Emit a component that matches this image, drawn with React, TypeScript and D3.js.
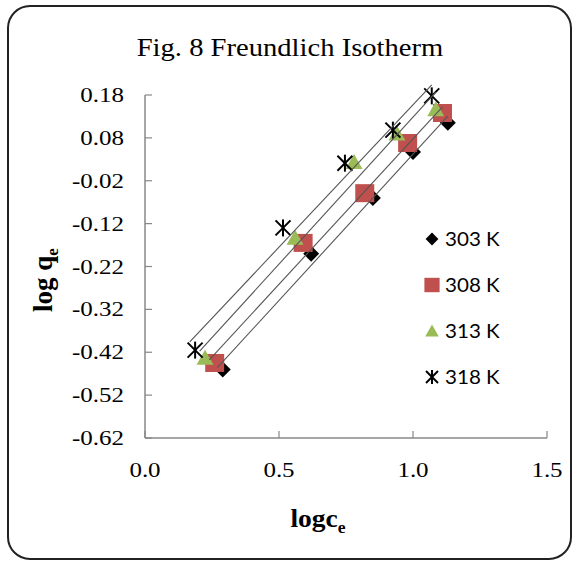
import React from "react";
import * as d3 from "d3";

const seriesNames = ["303 K", "308 K", "313 K", "318 K"];
const x303 = [0.29, 0.62, 0.85, 1.0, 1.13];
const y303 = [-0.46, -0.19, -0.06, 0.047, 0.115];
const x308 = [0.26, 0.59, 0.82, 0.98, 1.11];
const y308 = [-0.445, -0.165, -0.049, 0.068, 0.138];
const x313 = [0.224, 0.56, 0.78, 0.94, 1.085];
const y313 = [-0.433, -0.153, 0.024, 0.09, 0.147];
const x318 = [0.187, 0.515, 0.746, 0.925, 1.07];
const y318 = [-0.415, -0.13, 0.021, 0.098, 0.178];
const yTicks = [0.18, 0.08, -0.02, -0.12, -0.22, -0.32, -0.42, -0.52, -0.62];
const xTicks = [0.0, 0.5, 1.0, 1.5];

const W = 578, H = 565;
const serif = "'Liberation Serif', 'Times New Roman', serif";
const sans = "Lato, 'Open Sans', 'Liberation Sans', sans-serif";

function fit(xs: number[], ys: number[]) {
  const mx = d3.mean(xs)!, my = d3.mean(ys)!;
  let sxy = 0, sxx = 0;
  xs.forEach((x, i) => { sxy += (x - mx) * (ys[i] - my); sxx += (x - mx) ** 2; });
  const b = sxy / sxx;
  return { b, a: my - b * mx };
}

function STxt(p: { x: number; y: number; sx?: number; anchor?: string; size: number; family: string; weight?: string; children: any; rotate?: number }) {
  const t = `translate(${p.x},${p.y})${p.rotate ? ` rotate(${p.rotate})` : ""} scale(${p.sx ?? 1},1)`;
  return (
    <text transform={t} textAnchor={p.anchor ?? "start"} fontSize={p.size} fontFamily={p.family} fontWeight={p.weight ?? "normal"} fill="#000">
      {p.children}
    </text>
  );
}

function Marker({ kind, cx, cy, s = 1 }: { kind: number; cx: number; cy: number; s?: number }) {
  if (kind === 0) {
    const r = 8 * s;
    return <path d={`M${cx},${cy - r}L${cx + r},${cy}L${cx},${cy + r}L${cx - r},${cy}Z`} fill="#000" />;
  }
  if (kind === 1) {
    return <rect x={cx - 9.5 * s} y={cy - 9 * s} width={19 * s} height={18 * s} fill="#C0504D" />;
  }
  if (kind === 2) {
    return <path d={`M${cx},${cy - 8 * s}L${cx + 8.5 * s},${cy + 7 * s}L${cx - 8.5 * s},${cy + 7 * s}Z`} fill="#9BBB59" />;
  }
  const r = 7.5 * s;
  return (
    <g stroke="#000" strokeWidth={2}>
      <line x1={cx - r} y1={cy - r} x2={cx + r} y2={cy + r} />
      <line x1={cx - r} y1={cy + r} x2={cx + r} y2={cy - r} />
      <line x1={cx} y1={cy - r - 1} x2={cx} y2={cy + r + 1} />
    </g>
  );
}

export default function App() {
  const xs = [x303, x308, x313, x318];
  const ys = [y303, y308, y313, y318];
  const x = d3.scaleLinear().domain([0, 1.5]).range([145, 547]);
  const y = d3.scaleLinear().domain([-0.62, 0.18]).range([438, 95]);
  const fmtY = (v: number) => v.toFixed(2);
  const fmtX = (v: number) => v.toFixed(1);
  const legendY = [239, 285, 331, 377];

  return (
    <svg width={W} height={H} style={{ position: "absolute", left: 0, top: 0 }}>
      <rect x={0} y={0} width={W} height={H} fill="#fff" />
      <rect x={8} y={6} width={563} height={553} rx={22} ry={22} fill="#fff" stroke="#222" strokeWidth={2} />
      <STxt x={290} y={56} anchor="middle" size={26} family={serif} sx={1.1}>Fig. 8 Freundlich Isotherm</STxt>

      {/* axes */}
      <line x1={x(0)} y1={y(0.18)} x2={x(0)} y2={y(-0.62)} stroke="#888" strokeWidth={1.5} />
      <line x1={x(0)} y1={y(-0.62)} x2={x(1.5)} y2={y(-0.62)} stroke="#888" strokeWidth={1.5} />
      {yTicks.map((t) => (
        <g key={"y" + t}>
          <line x1={x(0)} x2={x(0) + 7} y1={y(t)} y2={y(t)} stroke="#888" strokeWidth={1.2} />
          <STxt x={124} y={y(t) + 7} anchor="end" size={20} family={serif} sx={1.25}>{fmtY(t)}</STxt>
        </g>
      ))}
      {xTicks.map((t) => (
        <g key={"x" + t}>
          <line x1={x(t)} x2={x(t)} y1={y(-0.62)} y2={y(-0.62) - 7} stroke="#888" strokeWidth={1.2} />
          <STxt x={x(t)} y={477} anchor="middle" size={20} family={serif} sx={1.25}>{fmtX(t)}</STxt>
        </g>
      ))}

      {/* markers */}
      {xs.map((sx, k) => sx.map((v, i) => <Marker key={k + "-" + i} kind={k} cx={x(v)} cy={y(ys[k][i])} />))}

      {/* trendlines */}
      {xs.map((sx, k) => {
        const f = fit(sx, ys[k]);
        const x0 = d3.min(sx)! - 0.02, x1 = d3.max(sx)!;
        return <line key={"t" + k} x1={x(x0)} y1={y(f.a + f.b * x0)} x2={x(x1)} y2={y(f.a + f.b * x1)} stroke="#555" strokeWidth={1.1} />;
      })}

      {/* legend */}
      {seriesNames.map((n, k) => (
        <g key={n}>
          <Marker kind={k} cx={432} cy={legendY[k]} s={0.8} />
          <STxt x={445} y={legendY[k] + 7} size={20} family={sans} sx={1.03}>{n}</STxt>
        </g>
      ))}

      {/* axis titles */}
      <STxt x={318} y={527} anchor="middle" size={25} family={serif} weight="bold" sx={1.1}>
        <tspan>logc</tspan><tspan fontSize={16} dy={6}>e</tspan>
      </STxt>
      <STxt x={52} y={280} anchor="middle" size={27} family={serif} weight="bold" sx={1} rotate={-90}>
        <tspan>log q</tspan><tspan fontSize={17} dy={6}>e</tspan>
      </STxt>
    </svg>
  );
}
